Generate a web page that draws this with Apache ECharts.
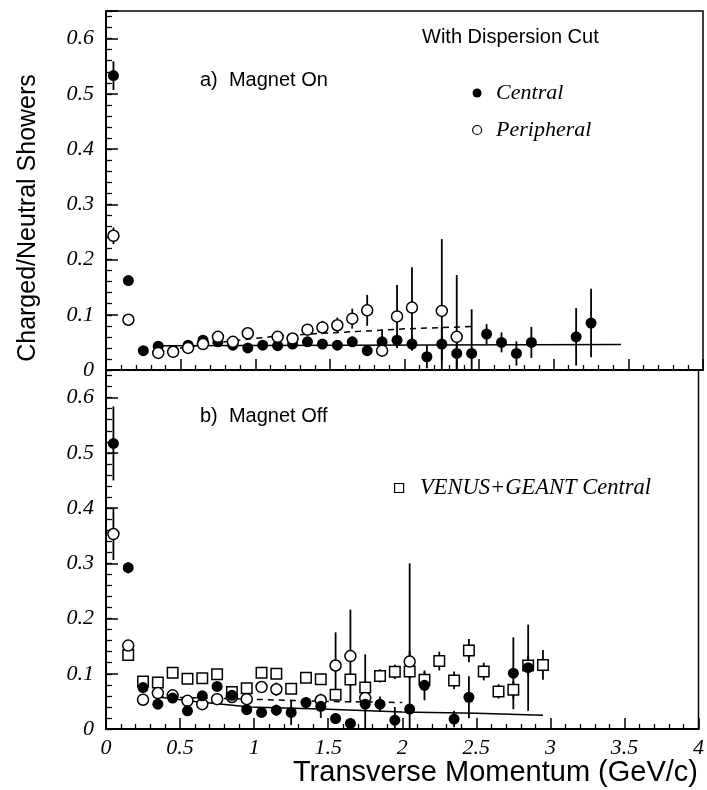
<!DOCTYPE html>
<html><head><meta charset="utf-8">
<script src="https://cdn.jsdelivr.net/npm/echarts@6/dist/echarts.min.js"></script>
<style>html,body{margin:0;padding:0;background:#fff}#c{width:707px;height:790px}</style>
</head><body><div id="c"></div>
<script>
// ---------- tick labels ----------
const xTickValues = [0, 0.5, 1, 1.5, 2, 2.5, 3, 3.5, 4];
const xTickLabels = ['0', '0.5', '1', '1.5', '2', '2.5', '3', '3.5', '4'];
const yTickValues = [0, 0.1, 0.2, 0.3, 0.4, 0.5, 0.6];
const yTickLabels = ['0', '0.1', '0.2', '0.3', '0.4', '0.5', '0.6'];

// ---------- a) Magnet On ----------
const topCentralPt  = [0.05,0.15,0.25,0.35,0.45,0.55,0.65,0.75,0.85,0.95,1.05,1.15,1.25,1.35,1.45,1.55,1.65,1.75,1.85,1.95,2.05,2.15,2.25,2.35,2.45,2.55,2.65,2.75,2.85,3.15,3.25];
const topCentralVal = [0.533,0.162,0.035,0.043,0.035,0.045,0.054,0.051,0.045,0.040,0.045,0.044,0.047,0.051,0.047,0.045,0.051,0.035,0.051,0.054,0.047,0.024,0.047,0.030,0.030,0.065,0.050,0.030,0.050,0.060,0.085];
const topCentralErr = [0.026,0.005,0.004,0.004,0.004,0.004,0.005,0.005,0.005,0.005,0.005,0.006,0.006,0.007,0.007,0.008,0.009,0.009,0.022,0.012,0.012,0.021,0.030,0.030,0.080,0.018,0.018,0.022,0.028,0.052,0.062];

const topPeriphPt  = [0.05,0.15,0.35,0.45,0.55,0.65,0.75,0.85,0.95,1.15,1.25,1.35,1.45,1.55,1.65,1.75,1.85,1.95,2.05,2.25,2.35];
const topPeriphVal = [0.243,0.091,0.031,0.033,0.040,0.047,0.060,0.051,0.0665,0.060,0.057,0.073,0.077,0.081,0.093,0.108,0.035,0.097,0.113,0.107,0.060];
const topPeriphErr = [0.015,0.005,0.004,0.004,0.005,0.005,0.006,0.006,0.007,0.008,0.008,0.010,0.012,0.014,0.018,0.028,0.006,0.057,0.073,0.130,0.112];

const topFitCentralPt  = [0.35, 3.45];
const topFitCentralVal = [0.044, 0.046];
const topFitPeriphPt   = [0.35, 0.6, 0.85, 1.1, 1.35, 1.7, 2.0, 2.45];
const topFitPeriphVal  = [0.033, 0.044, 0.053, 0.060, 0.065, 0.070, 0.0745, 0.0786];

// ---------- b) Magnet Off ----------
const botCentralPt  = [0.05,0.15,0.25,0.35,0.45,0.55,0.65,0.75,0.85,0.95,1.05,1.15,1.25,1.35,1.45,1.55,1.65,1.75,1.85,1.95,2.05,2.15,2.35,2.45,2.75,2.85];
const botCentralVal = [0.517,0.292,0.075,0.045,0.056,0.033,0.060,0.077,0.061,0.035,0.030,0.034,0.030,0.048,0.041,0.019,0.010,0.045,0.045,0.016,0.036,0.079,0.018,0.0575,0.101,0.111];
const botCentralErr = [0.067,0.010,0.008,0.006,0.006,0.006,0.007,0.008,0.008,0.008,0.008,0.010,0.023,0.010,0.021,0.010,0.010,0.090,0.014,0.024,0.264,0.027,0.015,0.038,0.065,0.078];

const botPeriphPt  = [0.05,0.15,0.25,0.35,0.45,0.55,0.65,0.75,0.85,0.95,1.05,1.15,1.45,1.55,1.65,1.75,2.05];
const botPeriphVal = [0.353,0.151,0.053,0.065,0.061,0.051,0.045,0.054,0.058,0.054,0.076,0.072,0.052,0.115,0.132,0.056,0.122];
const botPeriphErr = [0.047,0.006,0.005,0.006,0.006,0.006,0.006,0.007,0.008,0.008,0.010,0.012,0.012,0.060,0.084,0.010,0.020];

const venusPt  = [0.15,0.25,0.35,0.45,0.55,0.65,0.75,0.85,0.95,1.05,1.15,1.25,1.35,1.45,1.55,1.65,1.75,1.85,1.95,2.05,2.15,2.25,2.35,2.45,2.55,2.65,2.75,2.85,2.95];
const venusVal = [0.134,0.086,0.084,0.102,0.091,0.092,0.099,0.067,0.074,0.102,0.100,0.073,0.093,0.090,0.062,0.0895,0.075,0.096,0.1035,0.104,0.089,0.123,0.088,0.142,0.104,0.068,0.071,0.115,0.116];
const venusErr = [0.004,0.004,0.004,0.005,0.005,0.005,0.005,0.005,0.006,0.006,0.007,0.007,0.008,0.010,0.010,0.011,0.012,0.012,0.013,0.013,0.014,0.017,0.016,0.021,0.016,0.013,0.016,0.017,0.027];

const botFitCentralPt  = [0.35, 0.6, 0.97, 1.5, 2.0, 2.5, 2.95];
const botFitCentralVal = [0.058, 0.050, 0.040, 0.0357, 0.031, 0.0285, 0.025];
const botFitPeriphPt   = [0.35, 0.85, 1.45, 2.0];
const botFitPeriphVal  = [0.058, 0.055, 0.050, 0.048];

// ---------- helpers ----------
const Y_MIN = 0, Y_MAX = 0.65;
const pairs = (xs, ys) => xs.map((x, i) => [x, ys[i]]);
const triples = (xs, ys, es) => xs.map((x, i) => [x, ys[i], es[i]]);
const SERIF = '"Liberation Serif", "Times New Roman", serif';
const SANS = '"Liberation Sans", Arial, Helvetica, sans-serif';

function errSeries(gi, xs, ys, es) {
  return {
    type: 'custom', xAxisIndex: gi, yAxisIndex: gi, z: 2, silent: true,
    data: triples(xs, ys, es),
    encode: { x: 0, y: 1 },
    renderItem: function (params, api) {
      const x = api.value(0), y = api.value(1), e = api.value(2);
      const lo = Math.max(y - e, Y_MIN), hi = Math.min(y + e, Y_MAX);
      const p1 = api.coord([x, lo]), p2 = api.coord([x, hi]);
      return { type: 'line', shape: { x1: p1[0], y1: p1[1], x2: p2[0], y2: p2[1] },
               style: { stroke: '#000', lineWidth: 1.8 } };
    }
  };
}
function scatter(gi, name, xs, ys, kind) {
  const s = { type: 'scatter', name: name, xAxisIndex: gi, yAxisIndex: gi, z: 3,
              data: pairs(xs, ys), symbolSize: 11 };
  if (kind === 'filled') { s.symbol = 'circle'; s.itemStyle = { color: '#000', opacity: 1 }; }
  else if (kind === 'open') { s.symbol = 'circle'; s.itemStyle = { color: '#fff', borderColor: '#000', borderWidth: 1.5, opacity: 1 }; }
  else { s.symbol = 'rect'; s.symbolSize = 10.5; s.itemStyle = { color: '#fff', borderColor: '#000', borderWidth: 1.5, opacity: 1 }; }
  return s;
}
function fitLine(gi, xs, ys, dashed) {
  return { type: 'line', xAxisIndex: gi, yAxisIndex: gi, z: 1, silent: true,
           data: pairs(xs, ys), symbol: 'none',
           lineStyle: { color: '#000', width: 1.5, type: dashed ? [6, 5] : 'solid' } };
}
function xAxis(gi, labels) {
  return {
    gridIndex: gi, type: 'value', min: 0, max: 4, interval: 0.5,
    axisLine: { show: true, onZero: false, lineStyle: { color: '#000', width: 2 } },
    axisTick: { show: true, inside: true, length: 11, lineStyle: { color: '#000', width: 1.5 } },
    minorTick: { show: true, splitNumber: 5, length: 5, lineStyle: { color: '#000', width: 1.3 } },
    splitLine: { show: false }, minorSplitLine: { show: false },
    axisLabel: {
      show: labels, margin: 8, color: '#000', fontFamily: SERIF, fontStyle: 'italic', fontSize: 22,
      formatter: v => { const i = xTickValues.findIndex(t => Math.abs(t - v) < 1e-6); return i >= 0 ? xTickLabels[i] : ''; }
    }
  };
}
function yAxisMain(gi) {
  return {
    gridIndex: gi, type: 'value', min: Y_MIN, max: Y_MAX, interval: 0.1, position: 'left',
    axisLine: { show: true, onZero: false, lineStyle: { color: '#000', width: 2 } },
    axisTick: { show: true, inside: true, length: 12, lineStyle: { color: '#000', width: 1.5 } },
    splitLine: { show: false },
    axisLabel: {
      show: true, margin: 12, color: '#000', fontFamily: SERIF, fontStyle: 'italic', fontSize: 22,
      formatter: v => { const i = yTickValues.findIndex(t => Math.abs(t - v) < 1e-6); return i >= 0 ? yTickLabels[i] : ''; }
    }
  };
}
function yAxisMinor(gi) {
  return {
    gridIndex: gi, type: 'value', min: Y_MIN, max: Y_MAX, interval: 0.02, position: 'left', offset: 0,
    axisLine: { show: false }, splitLine: { show: false }, axisLabel: { show: false },
    axisTick: { show: true, inside: true, length: 6, lineStyle: { color: '#000', width: 1.3 } }
  };
}

const chart = echarts.init(document.getElementById('c'), null, { renderer: 'canvas' });
chart.setOption({
  animation: false,
  backgroundColor: '#fff',
  grid: [
    { left: 106, top: 11, width: 597, height: 359, show: true, borderColor: '#000', borderWidth: 1.5, backgroundColor: 'transparent' },
    { left: 106, top: 370, width: 597, height: 359, show: true, borderColor: '#000', borderWidth: 1.5, backgroundColor: 'transparent' }
  ],
  xAxis: [xAxis(0, false), xAxis(1, true)],
  yAxis: [yAxisMain(0), yAxisMain(1), yAxisMinor(0), yAxisMinor(1)],
  legend: [
    { data: ['Central', 'Peripheral'], orient: 'vertical', left: 467, top: 76,
      itemWidth: 28, itemHeight: 9, itemGap: 13, selectedMode: false, icon: 'circle',
      itemStyle: { borderWidth: 1.2 },
      textStyle: { fontFamily: SERIF, fontStyle: 'italic', fontSize: 22, color: '#000', lineHeight: 24 } },
    { data: ['VENUS+GEANT Central'], orient: 'vertical', left: 389, top: 471,
      itemWidth: 32, itemHeight: 9, selectedMode: false, symbolKeepAspect: true,
      icon: 'path://M0,0L10,0L10,10L0,10Z',
      itemStyle: { borderWidth: 1.2 },
      textStyle: { fontFamily: SERIF, fontStyle: 'italic', fontSize: 22.5, color: '#000', lineHeight: 24 } }
  ],
  graphic: [
    { type: 'text', x: 422, y: 37, style: { text: 'With Dispersion Cut', font: '20px ' + SANS, fill: '#000', verticalAlign: 'middle', align: 'left' } },
    { type: 'text', x: 200, y: 80, style: { text: 'a)  Magnet On', font: '20px ' + SANS, fill: '#000', verticalAlign: 'middle', align: 'left' } },
    { type: 'text', x: 200, y: 416, style: { text: 'b)  Magnet Off', font: '20px ' + SANS, fill: '#000', verticalAlign: 'middle', align: 'left' } },
    { type: 'text', x: 698, y: 773, style: { text: 'Transverse Momentum (GeV/c)', font: '29px ' + SANS, fill: '#000', verticalAlign: 'middle', align: 'right' } },
    { type: 'text', x: 28, y: 218, rotation: Math.PI / 2, style: { text: 'Charged/Neutral Showers', font: '25px ' + SANS, fill: '#000', verticalAlign: 'middle', align: 'center' } }
  ],
  series: [
    fitLine(0, topFitCentralPt, topFitCentralVal, false),
    fitLine(0, topFitPeriphPt, topFitPeriphVal, true),
    errSeries(0, topCentralPt, topCentralVal, topCentralErr),
    errSeries(0, topPeriphPt, topPeriphVal, topPeriphErr),
    scatter(0, 'Central', topCentralPt, topCentralVal, 'filled'),
    scatter(0, 'Peripheral', topPeriphPt, topPeriphVal, 'open'),

    fitLine(1, botFitCentralPt, botFitCentralVal, false),
    fitLine(1, botFitPeriphPt, botFitPeriphVal, true),
    errSeries(1, botCentralPt, botCentralVal, botCentralErr),
    errSeries(1, botPeriphPt, botPeriphVal, botPeriphErr),
    errSeries(1, venusPt, venusVal, venusErr),
    scatter(1, 'VENUS+GEANT Central', venusPt, venusVal, 'square'),
    scatter(1, 'Peripheral', botPeriphPt, botPeriphVal, 'open'),
    scatter(1, 'Central', botCentralPt, botCentralVal, 'filled')
  ]
});
</script>
</body></html>
